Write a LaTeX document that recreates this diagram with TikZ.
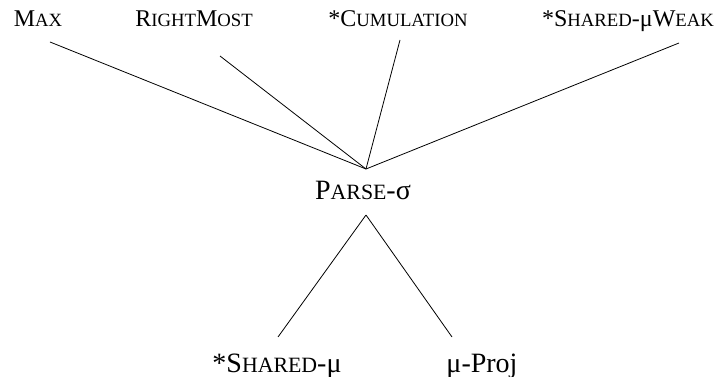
\documentclass[tikz,border=0pt]{standalone}
\usepackage{fontspec}
\setmainfont{Liberation Serif}
% faked small capitals: full-size initial, reduced capitals after it
\newcommand\screst[1]{{\fontsize{0.78\dimexpr\csname f@size\endcsname pt\relax}{1em}\selectfont #1}}
\tikzset{
  lbl/.style={anchor=base, inner sep=0pt, font=\fontsize{24pt}{26pt}\selectfont},
  biglbl/.style={anchor=base, inner sep=0pt, font=\fontsize{28pt}{30pt}\selectfont},
  edge/.style={line width=0.8pt, black}
}
\begin{document}
\begin{tikzpicture}[x=1pt, y=-1pt]
  \useasboundingbox (0,0) rectangle (716,377);
  % constraint labels
  \node[lbl] (max)   at (38,27)  {M\screst{AX}};
  \node[lbl] (rm)    at (194,27) {R\screst{IGHT}M\screst{OST}};
  \node[lbl] (cum)   at (398,27) {*C\screst{UMULATION}};
  \node[lbl] (shw)   at (628,27) {*S\screst{HARED}-μW\screst{EAK}};
  \node[biglbl] (parse) at (363,200) {P\screst{ARSE}-σ};
  \node[biglbl] (sh)    at (277,372) {*S\screst{HARED}-μ};
  \node[biglbl] (proj)  at (482,372) {μ-Proj};
  % line end points
  \coordinate (maxE) at (50,42);
  \coordinate (rmE)  at (220,56);
  \coordinate (cumE) at (400,40);
  \coordinate (shwE) at (679,43);
  \coordinate (top)  at (366,169);
  \coordinate (bot)  at (366,215);
  \coordinate (shE)  at (278,337);
  \coordinate (projE) at (452,337);
  % ranking lines
  \draw[edge] (maxE) -- (top);
  \draw[edge] (rmE) -- (top);
  \draw[edge] (cumE) -- (top);
  \draw[edge] (shwE) -- (top);
  \draw[edge] (bot) -- (shE);
  \draw[edge] (bot) -- (projE);
\end{tikzpicture}
\end{document}
